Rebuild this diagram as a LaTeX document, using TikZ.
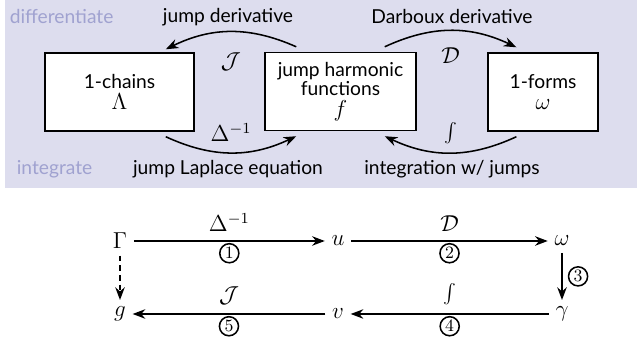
\documentclass[tikz,border=0pt]{standalone}
\usepackage{fontspec}
\setmainfont{Lato}
\usetikzlibrary{arrows.meta, positioning, calc}
\definecolor{panelbg}{RGB}{221,221,238}
\definecolor{faded}{RGB}{160,162,208}

\begin{document}
\begin{tikzpicture}[
  x=0.52pt, y=-0.52pt,
  box/.style={draw, thick, fill=white, minimum height=40.5pt, align=center},
  arrow/.style={-Stealth, thick},
  dasharrow/.style={-Stealth, thick, densely dashed},
  circnum/.style={draw, circle, inner sep=0.9pt, font=\small},
  sym/.style={font=\large},
  side/.style={text=faded}
]
\useasboundingbox (0,0) rectangle (637,349);
\fill[panelbg] (5,0) rectangle (637,188);

% Boxes
\node[box, minimum width=77.5pt] (chains) at (119.5,92) {1-chains\\[-1pt]\large$\Lambda$};
\node[box, minimum width=78.5pt] (harm) at (340.5,91.5) {jump harmonic\\[-2pt]functions\\[-1pt]\large$f$};
\node[box, minimum width=57pt] (forms) at (543,92) {1-forms\\[-1pt]\large$\omega$};

% Row labels
\node[side, anchor=west] (diff) at (3,17) {differentiate};
\node[side, anchor=west] (integ) at (10,169) {integrate};
\node (jd) at (228,17) {jump derivative};
\node (dd) at (452,17) {Darboux derivative};
\node (jl) at (228,169) {jump Laplace equation};
\node (iw) at (452,169) {integration w/ jumps};

% Arcs
\draw[arrow] ($(harm.north west)+(32,-5)$) to[bend right=25]
  node[sym, below=7pt] {$\mathcal{J}$} ($(chains.north east)+(-29,-3)$);
\draw[arrow] ($(harm.north east)+(-32,-5)$) to[bend left=25]
  node[sym, below=5pt] {$\mathcal{D}$} ($(forms.north west)+(29,-5)$);
\draw[arrow] ($(chains.south east)+(-29,5)$) to[bend right=25]
  node[sym, above=2pt] {$\Delta^{-1}$} ($(harm.south west)+(32,5)$);
\draw[arrow] ($(forms.south west)+(29,5)$) to[bend left=25]
  node[sym, above=1pt] {$\int$} ($(harm.south east)+(-32,5)$);

% Lower diagram
\node[sym] (G) at (120,241) {$\Gamma$};
\node[sym] (u) at (338,241) {$u$};
\node[sym] (w) at (562,241) {$\omega$};
\node[sym] (g) at (120,314) {$g$};
\node[sym] (v) at (338,314) {$v$};
\node[sym] (c) at (562,314) {$\gamma$};

\draw[arrow] (G) -- node[sym, above=1pt] {$\Delta^{-1}$} node[below=1pt, circnum] {$1$} (u);
\draw[arrow] (u) -- node[sym, above=1pt] {$\mathcal{D}$} node[below=1pt, circnum] {$2$} (w);
\draw[arrow] (w) -- node[right=3pt, circnum] {$3$} (c);
\draw[arrow] (c) -- node[sym, above=1pt] {$\int$} node[below=1pt, circnum] {$4$} (v);
\draw[arrow] (v) -- node[sym, above=1pt] {$\mathcal{J}$} node[below=1pt, circnum] {$5$} (g);
\draw[dasharrow] (G) -- (g);
\end{tikzpicture}
\end{document}
